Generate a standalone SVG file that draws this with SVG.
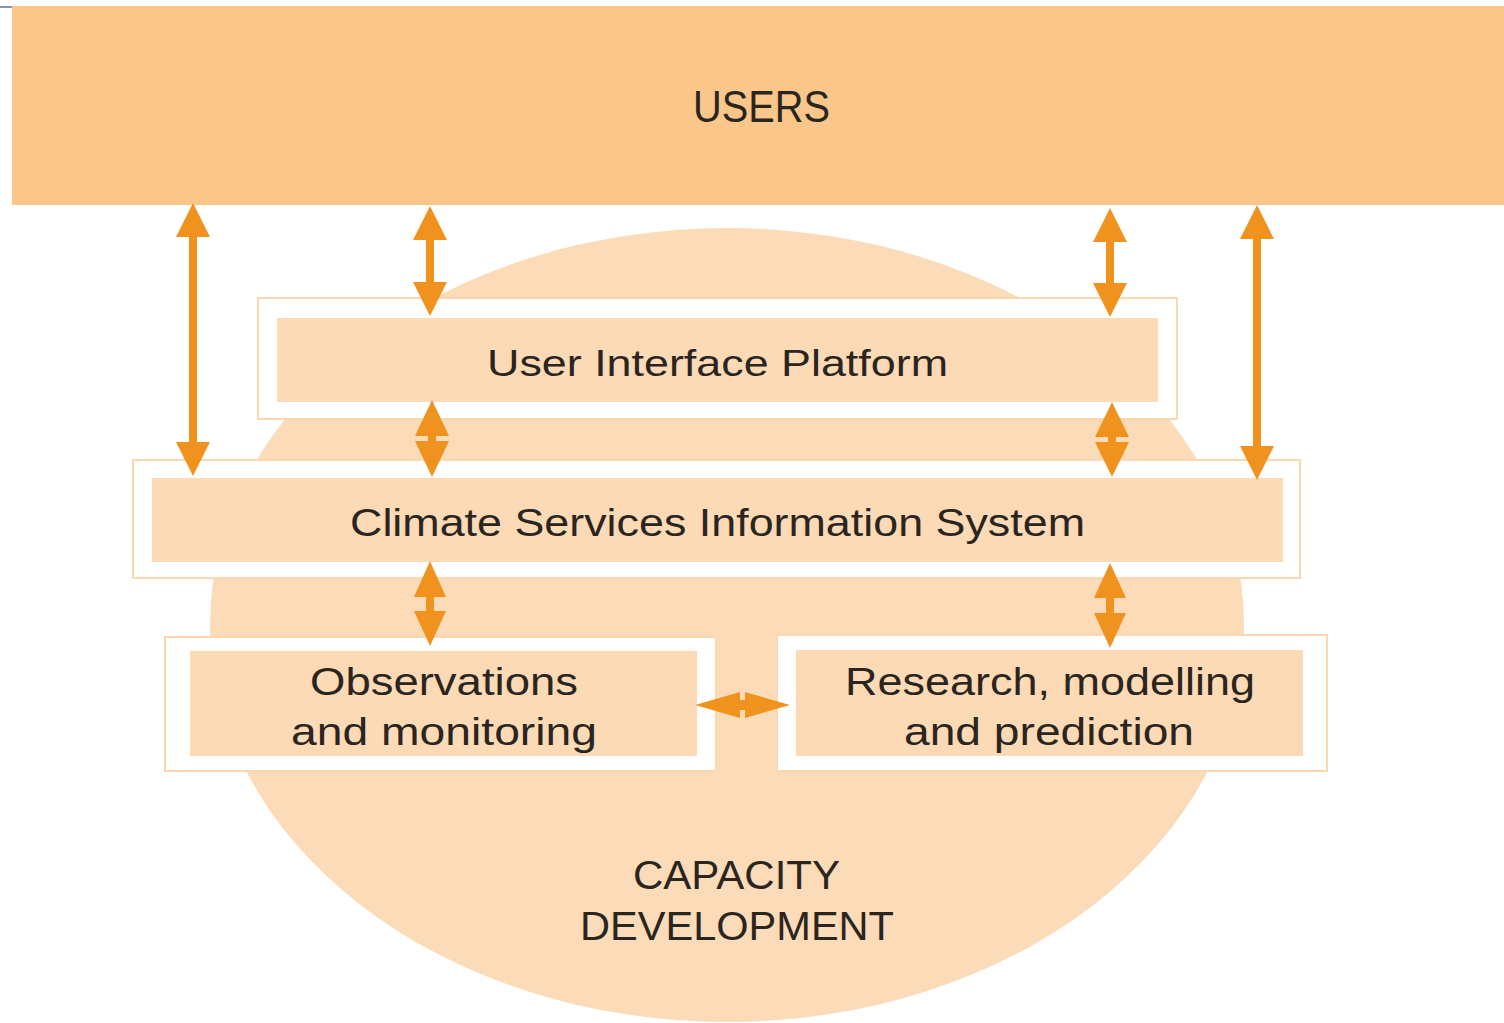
<svg xmlns="http://www.w3.org/2000/svg" width="1504" height="1023" viewBox="0 0 1504 1023">
<style>
.frame{fill:#ffffff;stroke:#fbd8b2;stroke-width:2}
.inner{fill:#fcdab6}
.arrow{fill:#f0921e}
.lbl{font-family:"Liberation Sans","DejaVu Sans",sans-serif;fill:#2b2520;text-anchor:start}
</style>
<rect x="0" y="0" width="1504" height="1023" fill="#ffffff"/>
<line x1="0" y1="7" x2="12" y2="7" stroke="#8592b4" stroke-width="2"/>
<g id="capacity">
<ellipse cx="727" cy="625" rx="517" ry="397" fill="#fcdbb8"/>
<text class="lbl" x="633" y="889" font-size="40" textLength="207" lengthAdjust="spacingAndGlyphs">CAPACITY</text>
<text class="lbl" x="580" y="940" font-size="40" textLength="314" lengthAdjust="spacingAndGlyphs">DEVELOPMENT</text>
</g>
<g id="users">
<rect x="12" y="6" width="1492" height="199" fill="#fbc68a"/>
<text class="lbl" x="693" y="122" font-size="44" textLength="137" lengthAdjust="spacingAndGlyphs">USERS</text>
</g>
<g id="uip">
<rect class="frame" x="258" y="298" width="919" height="121"/>
<rect class="inner" x="277" y="318" width="881" height="84"/>
<text class="lbl" x="487" y="376" font-size="37" textLength="461" lengthAdjust="spacingAndGlyphs">User Interface Platform</text>
</g>
<g id="csis">
<rect class="frame" x="133" y="460" width="1167" height="118"/>
<rect class="inner" x="152" y="478" width="1131" height="84"/>
<text class="lbl" x="350" y="536" font-size="38" textLength="735" lengthAdjust="spacingAndGlyphs">Climate Services Information System</text>
</g>
<g id="observations">
<rect class="frame" x="165" y="637" width="551" height="134"/>
<rect class="inner" x="190" y="651" width="507" height="105"/>
<text class="lbl" x="310" y="695" font-size="38" textLength="268" lengthAdjust="spacingAndGlyphs">Observations</text>
<text class="lbl" x="291" y="745" font-size="38" textLength="306" lengthAdjust="spacingAndGlyphs">and monitoring</text>
</g>
<g id="research">
<rect class="frame" x="777" y="635" width="550" height="136"/>
<rect class="inner" x="796" y="650" width="507" height="106"/>
<text class="lbl" x="845" y="695" font-size="38" textLength="410" lengthAdjust="spacingAndGlyphs">Research, modelling</text>
<text class="lbl" x="904" y="745" font-size="38" textLength="290" lengthAdjust="spacingAndGlyphs">and prediction</text>
</g>
<g id="connectors">
<path class="arrow" d="M193,203 L210,237 L197,237 L197,442 L210,442 L193,476 L176,442 L189,442 L189,237 L176,237 Z"/>
<path class="arrow" d="M430,206 L447,240 L434,240 L434,282 L447,282 L430,316 L413,282 L426,282 L426,240 L413,240 Z"/>
<path class="arrow" d="M1110,208 L1127,242 L1114,242 L1114,283 L1127,283 L1110,317 L1093,283 L1106,283 L1106,242 L1093,242 Z"/>
<path class="arrow" d="M1257,205 L1274,239 L1261,239 L1261,446 L1274,446 L1257,480 L1240,446 L1253,446 L1253,239 L1240,239 Z"/>
<path class="arrow" d="M432,400 L449,436 L436,436 L436,441 L449,441 L432,477 L415,441 L428,441 L428,436 L415,436 Z"/>
<path class="arrow" d="M1112,402 L1129,437 L1116,437 L1116,442 L1129,442 L1112,477 L1095,442 L1108,442 L1108,437 L1095,437 Z"/>
<path class="arrow" d="M430,561 L446,597 L434,597 L434,611 L446,611 L430,646 L414,611 L426,611 L426,597 L414,597 Z"/>
<path class="arrow" d="M1110,563 L1126,598 L1114,598 L1114,613 L1126,613 L1110,648 L1094,613 L1106,613 L1106,598 L1094,598 Z"/>
<path class="arrow" d="M695,705 L740,692 L740,700 L745,700 L745,692 L790,705 L745,718 L745,710 L740,710 L740,718 Z"/>
</g>
</svg>
